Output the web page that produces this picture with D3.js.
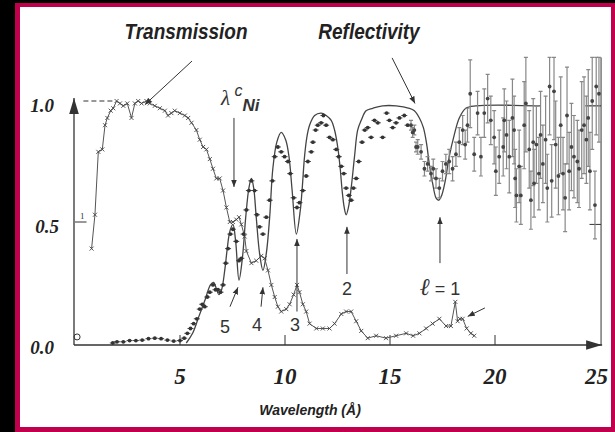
<!DOCTYPE html>
<html lang="en">
<head>
<meta charset="utf-8">
<title>Transmission and reflectivity vs wavelength</title>
<script src="https://d3js.org/d3.v7.min.js"></script>
<style>
  body { margin: 0; background: #000; }
  svg { display: block; }
</style>
</head>
<body>
<script>
var w = 615, h = 432;

// tick labels
var xTicks = [5, 10, 15, 20, 25];
var yTicks = [0.0, 0.5, 1.0];

// measured transmission [wavelength, T]
var transmission = [
  [0.79,0.39],[0.95,0.53],[1.11,0.79],[1.30,0.80],[1.43,0.90],[1.54,0.93],[1.70,0.96],[1.82,0.97],
  [1.98,1.00],[2.14,0.99],[2.30,0.98],[2.49,0.99],[2.69,0.93],[2.85,0.99],[3.01,1.00],[3.17,0.99],
  [3.40,1.00],[3.56,0.99],[3.80,0.98],[4.04,0.97],[4.28,0.96],[4.43,0.94],[4.59,0.95],[4.75,0.96],
  [4.99,0.95],[5.23,0.94],[5.39,0.93],[5.55,0.91],[5.78,0.88],[5.94,0.84],[6.10,0.81],[6.26,0.80],
  [6.42,0.76],[6.57,0.72],[6.73,0.68],[6.89,0.68],[7.05,0.63],[7.21,0.56],[7.37,0.50],[7.52,0.50],
  [7.68,0.51],[7.81,0.52],[7.92,0.49],[8.08,0.44],[8.16,0.38],[8.40,0.33],[8.63,0.34],[8.87,0.36],
  [9.03,0.35],[9.19,0.30],[9.35,0.24],[9.51,0.19],[9.66,0.15],[9.82,0.13],[10.06,0.14],[10.22,0.16],
  [10.41,0.20],[10.57,0.24],[10.69,0.21],[10.85,0.16],[11.01,0.13],[11.17,0.08],[11.49,0.06],[11.80,0.06],
  [12.12,0.06],[12.36,0.08],[12.68,0.12],[12.91,0.13],[13.15,0.13],[13.39,0.09],[13.63,0.05],[13.94,0.02],
  [14.34,0.03],[14.81,0.02],[15.29,0.03],[15.77,0.04],[16.10,0.03],[16.40,0.04],[16.72,0.06],[17.03,0.08],
  [17.35,0.10],[17.67,0.07],[17.90,0.07],[18.11,0.17],[18.22,0.09],[18.33,0.10],[18.46,0.10],[18.65,0.06],
  [18.85,0.04],[19.01,0.03]
];

// measured reflectivity, small errors [wavelength, R]
var reflectivity = [
  [1.8,0.000],[2.0,0.005],[2.3,0.005],[2.6,0.010],[2.9,0.010],[3.2,0.012],[3.5,0.018],[3.8,0.020],
  [4.1,0.018],[4.4,0.012],[4.7,0.008],[5.0,0.010],[5.2,0.020],[5.35,0.04],[5.5,0.06],[5.65,0.08],
  [5.8,0.10],[5.94,0.14],[6.06,0.16],[6.18,0.15],[6.30,0.19],[6.42,0.21],[6.57,0.24],[6.69,0.22],
  [6.81,0.22],[6.93,0.21],[7.05,0.24],[7.18,0.33],[7.29,0.39],[7.40,0.45],[7.52,0.47],[7.68,0.42],
  [7.81,0.34],[7.92,0.35],[8.03,0.45],[8.16,0.55],[8.28,0.63],[8.40,0.67],[8.55,0.63],[8.66,0.53],
  [8.79,0.48],[8.95,0.45],[9.11,0.52],[9.27,0.59],[9.40,0.67],[9.51,0.77],[9.66,0.81],[9.82,0.79],
  [9.98,0.77],[10.14,0.75],[10.25,0.70],[10.41,0.60],[10.57,0.56],[10.69,0.58],[10.85,0.63],[11.01,0.69],
  [11.09,0.75],[11.25,0.79],[11.33,0.83],[11.46,0.88],[11.56,0.90],[11.72,0.91],[11.83,0.94],[11.96,0.90],
  [12.12,0.85],[12.28,0.84],[12.44,0.80],[12.56,0.77],[12.68,0.73],[12.80,0.70],[12.91,0.64],[13.04,0.61],
  [13.15,0.59],[13.26,0.64],[13.39,0.68],[13.51,0.75],[13.67,0.83],[13.80,0.88],[13.94,0.89],[14.10,0.85],
  [14.26,0.92],[14.42,0.91],[14.65,0.85],[14.84,0.95],[14.97,0.92],[15.13,0.89],[15.29,0.91],[15.45,0.93],
  [15.68,0.94],[15.84,0.90]
];

// measured reflectivity with visible error bars [wavelength, R, error]
var reflectivityErr = [
  [16.00,0.90,0.02],[16.08,0.87,0.02],[16.16,0.88,0.02],[16.24,0.81,0.02],[16.32,0.81,0.03],[16.48,0.79,0.03],
  [16.64,0.72,0.03],[16.79,0.74,0.03],[16.95,0.70,0.03],[17.06,0.72,0.04],[17.19,0.68,0.04],[17.35,0.64,0.04],
  [17.50,0.71,0.04],[17.66,0.74,0.04],[17.82,0.75,0.05],[17.98,0.72,0.05],[18.14,0.78,0.05],[18.30,0.83,0.06],
  [18.46,0.88,0.06],[18.58,0.82,0.06],[18.69,0.90,0.07],[18.82,1.03,0.14],[19.01,0.78,0.07],[19.17,0.95,0.09],
  [19.33,0.77,0.08],[19.49,0.95,0.10],[19.65,1.01,0.10],[19.80,0.92,0.10],[19.96,0.85,0.11],[20.04,0.71,0.10],
  [20.20,0.77,0.11],[20.39,0.81,0.12],[20.44,0.92,0.13],[20.55,0.86,0.14],[20.68,0.77,0.15],[20.83,0.93,0.16],
  [20.91,0.88,0.14],[20.96,0.68,0.12],[21.02,0.61,0.11],[21.15,0.73,0.15],[21.23,0.61,0.12],[21.39,0.90,0.18],
  [21.47,0.99,0.20],[21.63,0.80,0.16],[21.71,0.59,0.12],[21.82,0.83,0.18],[21.86,0.66,0.14],[21.97,0.82,0.16],
  [22.09,0.70,0.15],[22.17,0.86,0.18],[22.28,0.74,0.16],[22.41,0.84,0.18],[22.49,0.64,0.14],[22.60,1.06,0.20],
  [22.70,0.67,0.15],[22.81,1.04,0.20],[22.89,0.82,0.18],[23.02,0.69,0.16],[23.13,0.90,0.20],[23.24,0.70,0.15],
  [23.34,0.60,0.14],[23.43,0.94,0.20],[23.53,0.71,0.16],[23.64,0.81,0.18],[23.76,0.77,0.17],[23.92,0.75,0.17],
  [24.00,0.72,0.16],[24.13,0.88,0.20],[24.24,0.90,0.20],[24.35,0.84,0.18],[24.44,0.93,0.20],[24.52,0.71,0.16],
  [24.63,1.00,0.20],[24.76,0.57,0.14],[24.82,1.06,0.20],[24.95,1.03,0.20]
];

// calculated reflectivity
var theory = [
  [5.30,0.00],[5.60,0.04],[5.90,0.11],[6.20,0.18],[6.45,0.24],[6.60,0.25],[6.75,0.22],[6.85,0.20],
  [6.98,0.22],[7.13,0.30],[7.25,0.39],[7.37,0.46],[7.52,0.49],[7.65,0.42],[7.81,0.26],[7.97,0.35],
  [8.13,0.52],[8.28,0.64],[8.40,0.68],[8.51,0.64],[8.63,0.52],[8.79,0.37],[8.95,0.30],[9.11,0.37],
  [9.27,0.52],[9.42,0.72],[9.61,0.83],[9.82,0.87],[10.03,0.84],[10.19,0.77],[10.34,0.63],[10.54,0.45],
  [10.73,0.55],[10.82,0.64],[10.93,0.77],[11.04,0.85],[11.17,0.90],[11.41,0.94],[11.72,0.95],[11.96,0.94],
  [12.20,0.92],[12.36,0.88],[12.51,0.81],[12.63,0.72],[12.72,0.63],[12.82,0.56],[12.91,0.53],[13.02,0.56],
  [13.15,0.64],[13.31,0.77],[13.46,0.88],[13.63,0.92],[13.86,0.96],[14.18,0.97],[14.65,0.98],[15.29,0.98],
  [15.92,0.97],[16.16,0.96],[16.40,0.93],[16.59,0.89],[16.75,0.82],[16.87,0.74],[17.03,0.66],[17.19,0.60],
  [17.32,0.59],[17.46,0.61],[17.63,0.67],[17.82,0.77],[18.06,0.86],[18.30,0.93],[18.61,0.97],[19.09,0.98],
  [22.15,0.98]
];
var theoryTail = [[24.30,0.98],[25.05,0.98]];

// order labels: text position and arrow (from -> to), in data units
var orders = [
  {t:"5", lx:7.14, ly:0.04, x1:7.38, y1:0.15, x2:7.76, y2:0.23},
  {t:"4", lx:8.67, ly:0.05, x1:8.86, y1:0.15, x2:8.95, y2:0.23},
  {t:"3", lx:10.48, ly:0.05, x1:10.57, y1:0.13, x2:10.57, y2:0.43},
  {t:"2", lx:12.95, ly:0.20, x1:12.95, y1:0.285, x2:12.95, y2:0.48}
];

//Scales
var x = d3.scaleLinear().domain([0, 25]).range([75, 600]);
var y = d3.scaleLinear().domain([0, 1]).range([343, 101]);

var svg = d3.select("body")
            .append("svg")
            .attr("width", w)
            .attr("height", h);

var defs = svg.append("defs");
defs.append("marker")
    .attr("id", "arr")
    .attr("viewBox", "0 0 10 10")
    .attr("refX", 10).attr("refY", 5)
    .attr("markerWidth", 7).attr("markerHeight", 7)
    .attr("markerUnits", "userSpaceOnUse")
    .attr("orient", "auto")
    .append("path").attr("d", "M0,1L10,5L0,9Z").attr("fill", "#333");
defs.append("marker")
    .attr("id", "bigarr")
    .attr("viewBox", "0 0 10 10")
    .attr("refX", 10).attr("refY", 5)
    .attr("markerWidth", 16).attr("markerHeight", 16)
    .attr("markerUnits", "userSpaceOnUse")
    .attr("orient", "auto")
    .append("path").attr("d", "M0,2L10,5L0,8Z").attr("fill", "#333");

//Frame
svg.append("rect").attr("width", w).attr("height", h).attr("fill", "#000");
svg.append("rect").attr("x", 15).attr("y", 3).attr("width", 600).attr("height", 429).attr("fill", "#c0004d");
svg.append("rect").attr("x", 20).attr("y", 7).attr("width", 591).attr("height", 420).attr("fill", "#fff");

var ink = "#333";

//Axes
svg.append("line")
   .attr("x1", x(0) - 1).attr("y1", y(0) + 2)
   .attr("x2", x(0) - 1).attr("y2", y(1) - 3)
   .attr("stroke", ink).attr("stroke-width", 1.3)
   .attr("marker-end", "url(#bigarr)");
svg.append("line")
   .attr("x1", x(0) - 1).attr("y1", y(0) + 2)
   .attr("x2", x(25.1)).attr("y2", y(0) + 2)
   .attr("stroke", ink).attr("stroke-width", 1.3)
   .attr("marker-end", "url(#bigarr)");
// right border line
svg.append("line")
   .attr("x1", x(25.05)).attr("y1", y(1.18))
   .attr("x2", x(25.05)).attr("y2", y(0) + 2)
   .attr("stroke", ink).attr("stroke-width", 1);
svg.append("line")
   .attr("x1", x(24.5)).attr("y1", y(0.49))
   .attr("x2", x(25.05)).attr("y2", y(0.49))
   .attr("stroke", ink).attr("stroke-width", 1);

svg.selectAll(".xtick")
   .data(xTicks.slice(0, 4))
   .enter()
   .append("line")
   .attr("x1", function(d) { return x(d); })
   .attr("x2", function(d) { return x(d); })
   .attr("y1", y(0) + 2)
   .attr("y2", y(0) - 8)
   .attr("stroke", ink);

svg.selectAll(".xlab")
   .data(xTicks)
   .enter()
   .append("text")
   .text(function(d) { return d; })
   .attr("x", function(d) { return d === 25 ? x(d) + 8 : x(d); })
   .attr("y", 384)
   .attr("text-anchor", function(d) { return d === 25 ? "end" : "middle"; })
   .attr("font-family", "Liberation Serif")
   .attr("font-weight", "bold")
   .attr("font-style", "italic")
   .attr("font-size", "23px")
   .attr("fill", "#222");

svg.selectAll(".ylab")
   .data(yTicks)
   .enter()
   .append("text")
   .text(function(d) { return d.toFixed(1); })
   .attr("x", function(d) { return d === 0.5 ? 59 : 54; })
   .attr("y", function(d) { return y(d) + 4; })
   .attr("dy", "0.35em")
   .attr("text-anchor", "end")
   .attr("font-family", "Liberation Serif")
   .attr("font-weight", "bold")
   .attr("font-style", "italic")
   .attr("font-size", "19px")
   .attr("fill", "#222");

svg.append("text")
   .text("Wavelength (\u00C5)")
   .attr("x", 310).attr("y", 415)
   .attr("text-anchor", "middle")
   .attr("font-family", "Liberation Sans")
   .attr("font-weight", "bold")
   .attr("font-style", "italic")
   .attr("font-size", "14px")
   .attr("fill", "#222");

// small marks near y axis
svg.append("text").text("1")
   .attr("x", x(0) + 5).attr("y", y(0.5) - 3)
   .attr("font-family", "Liberation Serif").attr("font-size", "9px").attr("fill", ink);
svg.append("line")
   .attr("x1", x(0)).attr("x2", x(0.55))
   .attr("y1", y(0.5)).attr("y2", y(0.5))
   .attr("stroke", ink);
svg.append("circle")
   .attr("cx", x(0.1)).attr("cy", y(0.025)).attr("r", 3)
   .attr("fill", "none").attr("stroke", ink);
svg.append("line")
   .attr("x1", x(0.4)).attr("x2", x(1.9))
   .attr("y1", y(1.0)).attr("y2", y(1.0))
   .attr("stroke", ink).attr("stroke-dasharray", "5,3");

//Theory line
var line = d3.line()
             .x(function(d) { return x(d[0]); })
             .y(function(d) { return y(d[1]); });
var smooth = d3.line()
               .x(function(d) { return x(d[0]); })
               .y(function(d) { return y(d[1]); })
               .curve(d3.curveCatmullRom.alpha(0.5));

svg.append("path")
   .datum(theory)
   .attr("d", smooth)
   .attr("fill", "none")
   .attr("stroke", "#444")
   .attr("stroke-width", 1.3);
svg.append("path")
   .datum(theoryTail)
   .attr("d", line)
   .attr("fill", "none")
   .attr("stroke", "#444")
   .attr("stroke-width", 1.3);

//Transmission
svg.append("path")
   .datum(transmission)
   .attr("d", line)
   .attr("fill", "none")
   .attr("stroke", "#555")
   .attr("stroke-width", 1);
svg.selectAll(".tmark")
   .data(transmission)
   .enter()
   .append("path")
   .attr("d", function(d) {
       var cx = x(d[0]), cy = y(d[1]);
       return "M" + (cx - 2) + "," + (cy - 2) + "L" + (cx + 2) + "," + (cy + 2) +
              "M" + (cx - 2) + "," + (cy + 2) + "L" + (cx + 2) + "," + (cy - 2);
   })
   .attr("stroke", "#444")
   .attr("stroke-width", 0.9);

//Reflectivity data
svg.selectAll(".rbar")
   .data(reflectivity)
   .enter()
   .append("line")
   .attr("x1", function(d) { return x(d[0]) - 3; })
   .attr("x2", function(d) { return x(d[0]) + 3; })
   .attr("y1", function(d) { return y(d[1]); })
   .attr("y2", function(d) { return y(d[1]); })
   .attr("stroke", "#444");
svg.selectAll(".rdot")
   .data(reflectivity)
   .enter()
   .append("circle")
   .attr("cx", function(d) { return x(d[0]); })
   .attr("cy", function(d) { return y(d[1]); })
   .attr("r", 1.9)
   .attr("fill", "#333");

var clipTop = 1.18;
svg.selectAll(".ebar")
   .data(reflectivityErr)
   .enter()
   .append("path")
   .attr("d", function(d) {
       var cx = x(d[0]);
       var top = y(Math.min(d[1] + d[2], clipTop)), bot = y(d[1] - d[2]);
       return "M" + cx + "," + top + "L" + cx + "," + bot +
              "M" + (cx - 2) + "," + top + "L" + (cx + 2) + "," + top +
              "M" + (cx - 2) + "," + bot + "L" + (cx + 2) + "," + bot;
   })
   .attr("fill", "none")
   .attr("stroke", "#888")
   .attr("stroke-width", 1.2);
svg.selectAll(".edot")
   .data(reflectivityErr)
   .enter()
   .append("circle")
   .attr("cx", function(d) { return x(d[0]); })
   .attr("cy", function(d) { return y(d[1]); })
   .attr("r", 1.9)
   .attr("fill", "#444");

//Titles and annotations
var titleFont = function(sel) {
    sel.attr("font-family", "Liberation Sans")
       .attr("font-weight", "bold")
       .attr("font-style", "italic")
       .attr("font-size", "19px")
       .attr("fill", "#222")
       .attr("text-anchor", "middle");
};
svg.append("text").text("Transmission")
   .attr("transform", "translate(186,39) scale(1,1.15)").call(titleFont);
svg.append("text").text("Reflectivity")
   .attr("transform", "translate(369,39) scale(1,1.15)").call(titleFont);

function arrow(x1, y1, x2, y2) {
    svg.append("line")
       .attr("x1", x(x1)).attr("y1", y(y1))
       .attr("x2", x(x2)).attr("y2", y(y2))
       .attr("stroke", ink).attr("stroke-width", 1)
       .attr("marker-end", "url(#arr)");
}
arrow(5.57, 1.165, 3.33, 0.985);
arrow(15.1, 1.178, 16.19, 0.99);
arrow(7.57, 0.93, 7.57, 0.645);
arrow(19.52, 0.145, 18.7, 0.11);

orders.forEach(function(o) {
    svg.append("text").text(o.t)
       .attr("x", x(o.lx)).attr("y", y(o.ly))
       .attr("text-anchor", "middle")
       .attr("font-family", "Liberation Sans")
       .attr("font-size", "18px")
       .attr("fill", "#333");
    arrow(o.x1, o.y1, o.x2, o.y2);
});

// l = 1 label
var l1 = svg.append("text")
            .attr("x", x(17.38)).attr("y", y(0.2))
            .attr("text-anchor", "middle")
            .attr("fill", "#333");
l1.append("tspan").text("\u2113")
  .attr("font-family", "Liberation Serif").attr("font-style", "italic").attr("font-size", "24px");
l1.append("tspan").text(" = 1")
  .attr("font-family", "Liberation Sans").attr("font-size", "18px");
arrow(17.38, 0.33, 17.38, 0.52);

// lambda c Ni label
var lam = svg.append("text")
             .attr("x", x(6.95)).attr("y", y(0.985))
             .attr("fill", "#333");
lam.append("tspan").text("\u03BB")
   .attr("font-family", "Liberation Serif").attr("font-style", "italic").attr("font-size", "21px");
lam.append("tspan").text(" c")
   .attr("dy", -9)
   .attr("font-family", "Liberation Sans").attr("font-style", "italic").attr("font-size", "16px");
lam.append("tspan").text("Ni")
   .attr("dy", 15)
   .attr("font-family", "Liberation Sans").attr("font-weight", "bold")
   .attr("font-style", "italic").attr("font-size", "17px");

</script>
</body>
</html>
